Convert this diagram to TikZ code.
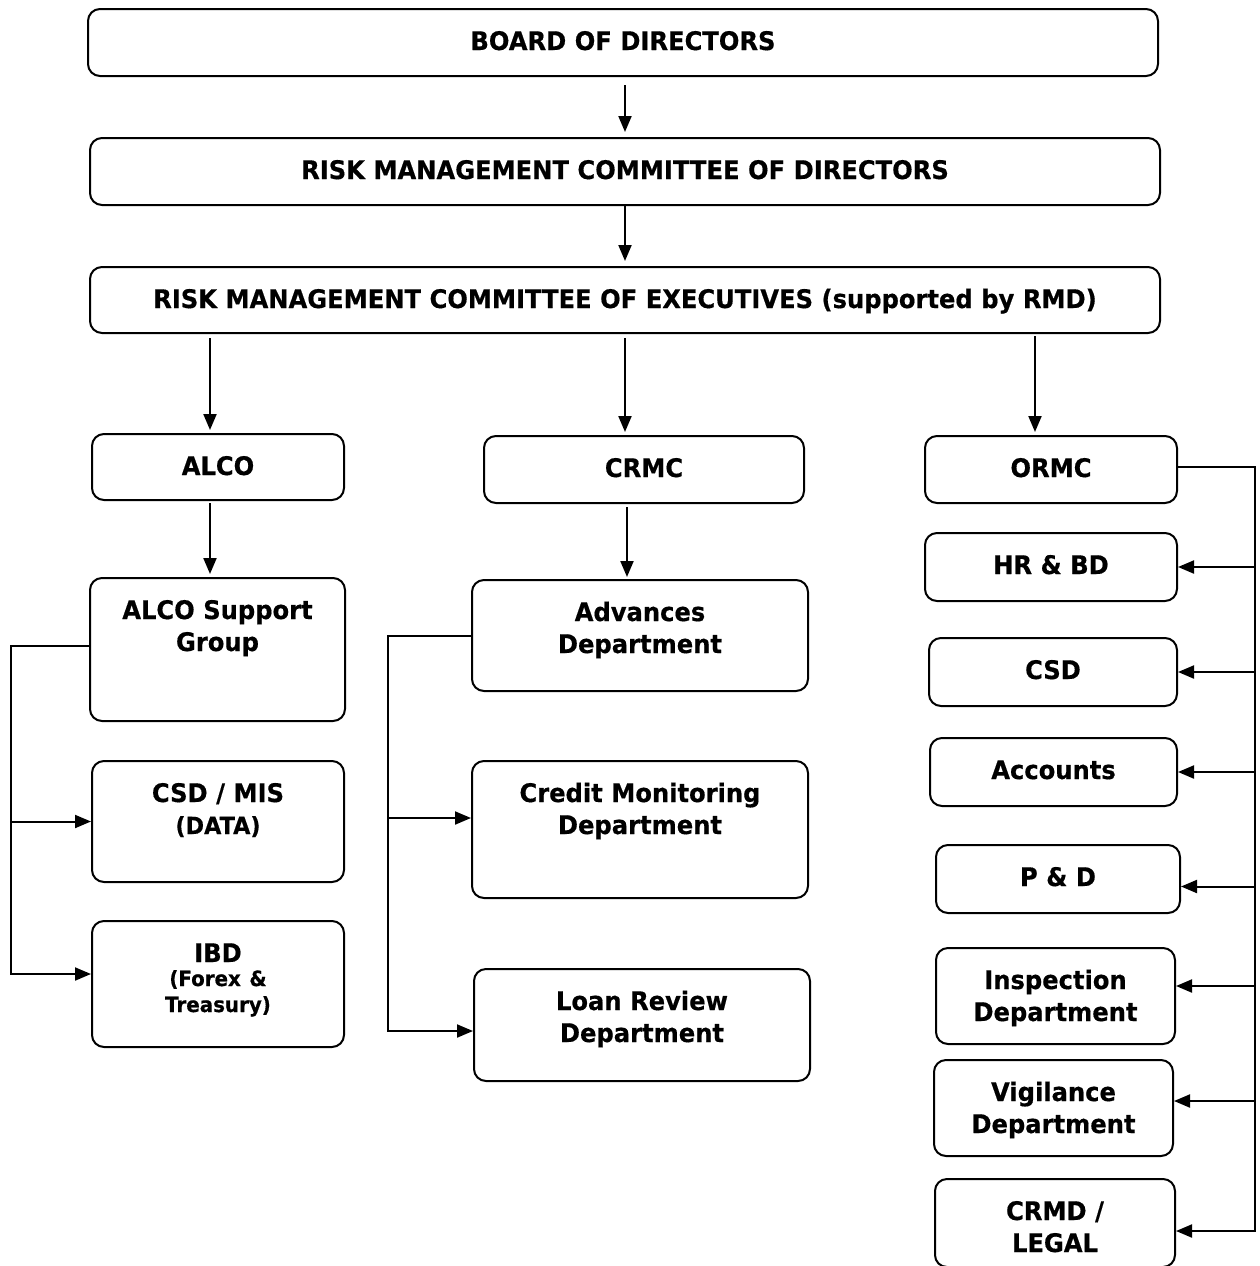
\documentclass[tikz,border=0pt]{standalone}
\usepackage{fontspec}
\setmainfont{DejaVu Sans}[FakeStretch=0.945, BoldFeatures={FakeBold=0.5}]
\usetikzlibrary{positioning,arrows.meta,calc}
\tikzstyle{box} = [draw, rectangle, rounded corners=6pt, line width=1pt, anchor=north, align=center, inner sep=0pt, text height=20.5pt, font=\bfseries\fontsize{12.8}{16}\selectfont]
\tikzstyle{arr} = [->, line width=1pt]
\tikzstyle{small} = [font=\bfseries\fontsize{12.8}{13}\selectfont]

\begin{document}
\begin{tikzpicture}[x=0.5pt, y=-0.5pt, >={Triangle[length=8pt,width=6.5pt]}]
	\useasboundingbox (0,0) rectangle (1260,1266);
	% top of the tree
	\node (board) [box, text width=535pt, text depth=13pt] at (623,8) {BOARD OF DIRECTORS};
	\node (rmcd) [box, text width=535pt, text depth=13pt] at (625,137) {RISK MANAGEMENT COMMITTEE OF DIRECTORS};
	\node (rmce) [box, text width=535pt, text depth=12.5pt] at (625,266) {RISK MANAGEMENT COMMITTEE OF EXECUTIVES (supported by RMD)};
	\node (alco) [box, text width=126pt, text depth=12.5pt] at (218,433) {ALCO};
	\node (crmc) [box, text width=160pt, text depth=13pt] at (644,435) {CRMC};
	\node (ormc) [box, text width=126pt, text depth=13pt] at (1051,435) {ORMC};
	
	% ALCO column
	\node (alcosg) [box, text width=127.5pt, text depth=51pt] at (217.5,577) {ALCO Support\\Group};
	\node (csdmis) [box, text width=126pt, text depth=40pt] at (218,760) {CSD / MIS\\{\fontsize{11.8}{16}\selectfont (DATA)}};
	\node (ibd) [box, small, text width=126pt, text depth=42.5pt] at (218,920) {IBD\\{\fontsize{10.5}{12}\selectfont (Forex \&\\Treasury)}};
	
	% CRMC column
	\node (adv) [box, text width=168pt, text depth=35pt] at (640,579) {Advances\\Department};
	\node (crmon) [box, text width=168pt, text depth=48pt] at (640,760) {Credit Monitoring\\Department};
	\node (loan) [box, text width=168pt, text depth=35.5pt] at (642,968) {Loan Review\\Department};
	
	% ORMC column
	\node (hrbd) [box, text width=126pt, text depth=13.5pt] at (1051,532) {HR \& BD};
	\node (csd) [box, text width=124pt, text depth=13.5pt] at (1053,637) {CSD};
	\node (acc) [box, text width=123.5pt, text depth=13.5pt] at (1053.5,737) {Accounts};
	\node (pd) [box, text width=122pt, text depth=13.5pt] at (1058,844) {P \& D};
	\node (insp) [box, text width=119.5pt, text depth=27.5pt] at (1055.5,947) {Inspection\\Department};
	\node (vig) [box, text width=119.5pt, text depth=27.5pt] at (1053.5,1059) {Vigilance\\Department};
	\node (crmd) [box, text width=120pt, text depth=23.5pt] at (1055,1178) {CRMD /\\LEGAL};
	
	\draw [arr, shorten <=4pt, shorten >=2.5pt] (rmcd.north |- board.south) -- (rmcd.north);
	\draw [arr, shorten >=2.5pt] (rmcd) -- (rmce);
	\draw [arr, shorten <=2pt, shorten >=1.5pt] ([xshift=-4pt]alco.north |- rmce.south) -- ([xshift=-4pt]alco.north);
	\draw [arr, shorten <=2pt, shorten >=1.5pt] ([xshift=-9.5pt]crmc.north |- rmce.south) -- ([xshift=-9.5pt]crmc.north);
	\draw [arr, shorten <=1pt, shorten >=1.5pt] ([xshift=-8pt]ormc.north |- rmce.south) -- ([xshift=-8pt]ormc.north);
	\draw [arr, shorten <=1pt, shorten >=1.5pt] ([xshift=-4pt]alco.south) -- ([xshift=-4pt]alcosg.north -| alco.south);
	\draw [arr, shorten <=1.5pt, shorten >=1pt] ([xshift=-8.5pt]crmc.south) -- ([xshift=-8.5pt]adv.north -| crmc.south);
	
	% side lines
	\coordinate (lbus) at (11,644);
	\coordinate (lout) at ([yshift=2pt]alcosg.west);
	\coordinate (ibdin) at ([yshift=5pt]ibd.west);
	\draw [arr] (lout) -| (lbus |- ibdin) -- (ibdin);
	\draw [arr] (lbus |- csdmis.west) -- (csdmis.west);
	
	\coordinate (mbus) at (388,634);
	\coordinate (loanin) at ([yshift=-3pt]loan.west);
	\coordinate (crmonin) at ([yshift=5.75pt]crmon.west);
	\draw [arr] (adv.west) -| (mbus |- loanin) -- (loanin);
	\draw [arr] (mbus |- crmonin) -- (crmonin);
	
	\coordinate (rbus) at (1255,465);
	\coordinate (ormcout) at ([yshift=1.5pt]ormc.east);
	\coordinate (crmdin) at ([yshift=-4pt]crmd.east);
	\draw [arr] (ormcout) -| (rbus |- crmdin) -- (crmdin);
	\foreach \n/\s in {hrbd/0, csd/0, acc/0, pd/7.5, insp/-10, vig/-7} {
		\coordinate (t) at ($(\n.east)+(0,\s)$);
		\draw [arr] (rbus |- t) -- (t);
	}
\end{tikzpicture}
\end{document}
